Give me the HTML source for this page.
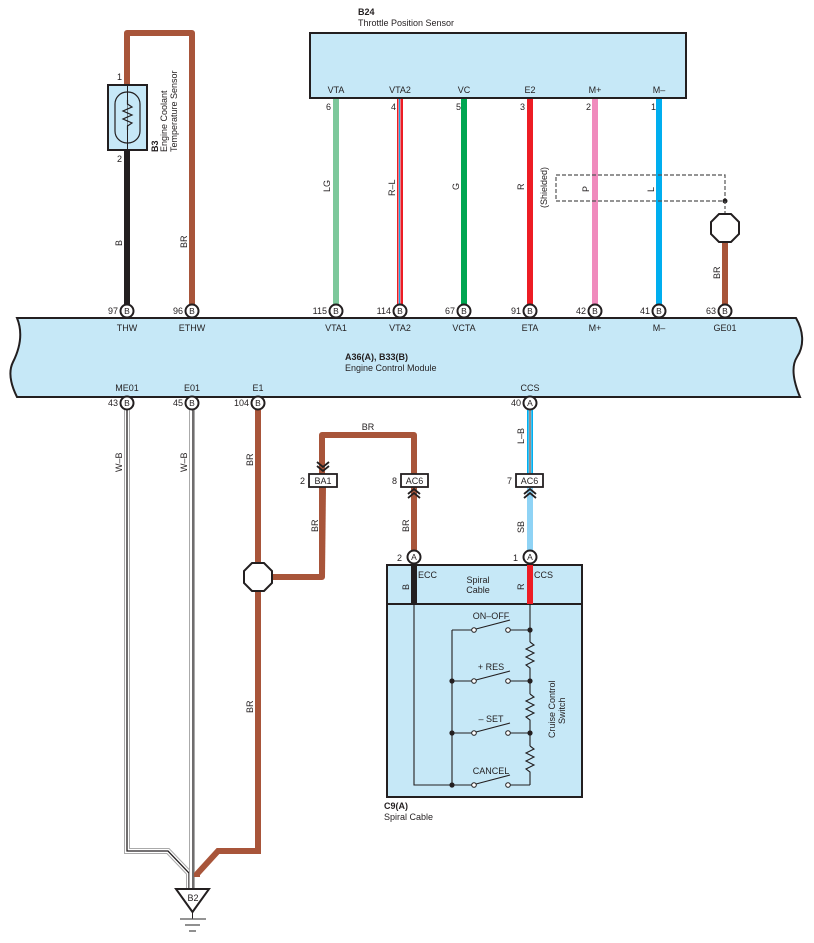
<!DOCTYPE html>
<html><head><meta charset="utf-8"><style>
html,body{margin:0;padding:0;background:#fff}
svg{display:block}
text{font-family:"Liberation Sans",Arial,sans-serif;font-size:9px;fill:#231f20}
.b{font-weight:bold}
</style></head><body>
<svg width="814" height="943" viewBox="0 0 814 943" xmlns="http://www.w3.org/2000/svg">
<defs>
<g id="pinB"><circle r="6.5" fill="#fff" stroke="#231f20" stroke-width="2"/><text x="0" y="3.2" text-anchor="middle" style="font-size:8.5px">B</text></g>
<g id="pinA"><circle r="6.5" fill="#fff" stroke="#231f20" stroke-width="2"/><text x="0" y="3.2" text-anchor="middle" style="font-size:8.5px">A</text></g>
</defs>

<text x="358" y="15" class="b">B24</text>
<text x="358" y="26">Throttle Position Sensor</text>
<rect x="310" y="33" width="376" height="65" fill="#c6e8f7" stroke="#231f20" stroke-width="2"/>
<g text-anchor="middle">
<text x="336" y="93">VTA</text><text x="400" y="93">VTA2</text><text x="464" y="93">VC</text>
<text x="530" y="93">E2</text><text x="595" y="93">M+</text><text x="659" y="93">M–</text>
</g>
<text x="326" y="110">6</text><text x="391" y="110">4</text><text x="456" y="110">5</text>
<text x="520" y="110">3</text><text x="586" y="110">2</text><text x="651" y="110">1</text>

<line x1="336" y1="99" x2="336" y2="304" stroke="#7dc89b" stroke-width="6"/>
<line x1="400" y1="99" x2="400" y2="304" stroke="#ed1c24" stroke-width="6"/>
<line x1="399.5" y1="99" x2="399.5" y2="304" stroke="#fff" stroke-width="2"/>
<line x1="399.5" y1="99" x2="399.5" y2="304" stroke="#1e9fe0" stroke-width="1.2"/>
<line x1="464" y1="99" x2="464" y2="304" stroke="#00a651" stroke-width="6"/>
<line x1="530" y1="99" x2="530" y2="304" stroke="#ed1c24" stroke-width="6"/>
<line x1="595" y1="99" x2="595" y2="304" stroke="#f08bbd" stroke-width="6"/>
<line x1="659" y1="99" x2="659" y2="304" stroke="#00aeef" stroke-width="6"/>

<rect x="556" y="175" width="169" height="26" fill="none" stroke="#555" stroke-width="1.2" stroke-dasharray="4,2"/>
<circle cx="725" cy="201" r="2.5" fill="#231f20"/>
<line x1="725" y1="201" x2="725" y2="214" stroke="#555" stroke-width="1.2" stroke-dasharray="3,2"/>
<line x1="725" y1="242" x2="725" y2="304" stroke="#a8553a" stroke-width="6"/>
<polygon points="719,214 731,214 739,222 739,234 731,242 719,242 711,234 711,222" fill="#fff" stroke="#231f20" stroke-width="2"/>
<text transform="translate(547,208) rotate(-90)">(Shielded)</text>

<text transform="translate(330,192) rotate(-90)">LG</text>
<text transform="translate(395,196) rotate(-90)">R–L</text>
<text transform="translate(459,190) rotate(-90)">G</text>
<text transform="translate(524,190) rotate(-90)">R</text>
<text transform="translate(589,192) rotate(-90)">P</text>
<text transform="translate(654,192) rotate(-90)">L</text>
<text transform="translate(720,279) rotate(-90)">BR</text>

<path d="M127,85 V33 H192 V304" fill="none" stroke="#a8553a" stroke-width="6" stroke-linejoin="round"/>
<line x1="127" y1="150" x2="127" y2="304" stroke="#231f20" stroke-width="6"/>
<rect x="108" y="85" width="39" height="65" fill="#c6e8f7" stroke="#231f20" stroke-width="2"/>
<rect x="115" y="92" width="25" height="51" rx="12" fill="none" stroke="#231f20" stroke-width="1.2"/>
<line x1="127.5" y1="85" x2="127.5" y2="150" stroke="#231f20" stroke-width="1"/>
<polyline points="127.5,100 127.5,104 132,107 123,111 132,115 123,119 132,123 127.5,126 127.5,130" fill="#c6e8f7" stroke="#231f20" stroke-width="1.2"/>
<text x="117" y="80">1</text><text x="117" y="162">2</text>
<text transform="translate(158,152) rotate(-90)" class="b">B3</text>
<text transform="translate(167,152) rotate(-90)">Engine Coolant</text>
<text transform="translate(177,152) rotate(-90)">Temperature Sensor</text>
<text transform="translate(122,246) rotate(-90)">B</text>
<text transform="translate(187,248) rotate(-90)">BR</text>

<path d="M17,318 H796 C803,330 805,345 797,357 C790,368 795,385 800,397 H17 C11,385 8,372 13,362 C18,352 24,335 17,318 Z" fill="#c6e8f7" stroke="#231f20" stroke-width="2"/>
<g text-anchor="middle">
<text x="127" y="331">THW</text><text x="192" y="331">ETHW</text><text x="336" y="331">VTA1</text>
<text x="400" y="331">VTA2</text><text x="464" y="331">VCTA</text><text x="530" y="331">ETA</text>
<text x="595" y="331">M+</text><text x="659" y="331">M–</text><text x="725" y="331">GE01</text>
<text x="127" y="391">ME01</text><text x="192" y="391">E01</text><text x="258" y="391">E1</text><text x="530" y="391">CCS</text>
</g>
<text x="345" y="360" class="b">A36(A), B33(B)</text>
<text x="345" y="371">Engine Control Module</text>
<g text-anchor="end">
<text x="118" y="314">97</text><text x="183" y="314">96</text><text x="327" y="314">115</text>
<text x="391" y="314">114</text><text x="455" y="314">67</text><text x="521" y="314">91</text>
<text x="586" y="314">42</text><text x="650" y="314">41</text><text x="716" y="314">63</text>
<text x="118" y="406">43</text><text x="183" y="406">45</text><text x="249" y="406">104</text><text x="521" y="406">40</text>
</g>
<use href="#pinB" x="127" y="311"/><use href="#pinB" x="192" y="311"/><use href="#pinB" x="336" y="311"/>
<use href="#pinB" x="400" y="311"/><use href="#pinB" x="464" y="311"/><use href="#pinB" x="530" y="311"/>
<use href="#pinB" x="595" y="311"/><use href="#pinB" x="659" y="311"/><use href="#pinB" x="725" y="311"/>

<g fill="none" stroke-linejoin="miter">
<path d="M127,410 V851 H168 L189,873 V889" stroke="#aaa" stroke-width="6"/>
<path d="M127,410 V851 H168 L189,873 V889" stroke="#fff" stroke-width="4"/>
<path d="M127,410 V851 H168 L189,873 V889" stroke="#231f20" stroke-width="1.3"/>
<path d="M192,410 V889" stroke="#aaa" stroke-width="6"/>
<path d="M192,410 V889" stroke="#fff" stroke-width="4"/>
<path d="M193,410 V889" stroke="#231f20" stroke-width="1.3"/>
<path d="M258,410 V851 H218 L197,874 V877" stroke="#a8553a" stroke-width="6"/>
</g>
<use href="#pinB" x="127" y="403"/><use href="#pinB" x="192" y="403"/><use href="#pinB" x="258" y="403"/>
<text transform="translate(122,472) rotate(-90)">W–B</text>
<text transform="translate(187,472) rotate(-90)">W–B</text>
<text transform="translate(253,466) rotate(-90)">BR</text>
<text transform="translate(253,713) rotate(-90)">BR</text>
<polygon points="176,889 209,889 192.5,912" fill="#fff" stroke="#231f20" stroke-width="2"/>
<text x="193" y="901" text-anchor="middle">B2</text>
<line x1="192.5" y1="912" x2="192.5" y2="919" stroke="#231f20" stroke-width="1"/>
<line x1="180" y1="919" x2="206" y2="919" stroke="#555" stroke-width="1.3"/>
<line x1="185" y1="925" x2="200" y2="925" stroke="#555" stroke-width="1.3"/>
<line x1="189" y1="931" x2="196" y2="931" stroke="#555" stroke-width="1.3"/>

<path d="M272,577 H322 V435 H414 V474" fill="none" stroke="#a8553a" stroke-width="6" stroke-linejoin="round"/>
<line x1="414" y1="487" x2="414" y2="557" stroke="#a8553a" stroke-width="6"/>
<line x1="323" y1="487" x2="322" y2="577" stroke="#a8553a" stroke-width="6"/>
<polygon points="252,563 264,563 272,571 272,583 264,591 252,591 244,583 244,571" fill="#fff" stroke="#231f20" stroke-width="2"/>
<text x="368" y="430" text-anchor="middle">BR</text>
<text transform="translate(318,532) rotate(-90)">BR</text>
<text transform="translate(409,532) rotate(-90)">BR</text>
<polyline points="317,462 323,467 329,462" fill="none" stroke="#231f20" stroke-width="1.8"/>
<polyline points="317,466 323,471 329,466" fill="none" stroke="#231f20" stroke-width="1.8"/>
<rect x="309" y="474" width="28" height="13" fill="#fff" stroke="#231f20" stroke-width="1.8"/>
<text x="323" y="484" text-anchor="middle">BA1</text><text x="300" y="484">2</text>
<rect x="401" y="474" width="27" height="13" fill="#fff" stroke="#231f20" stroke-width="1.8"/>
<text x="414.5" y="484" text-anchor="middle">AC6</text><text x="392" y="484">8</text>
<polyline points="408,494 414,489 420,494" fill="none" stroke="#231f20" stroke-width="1.8"/>
<polyline points="408,498 414,493 420,498" fill="none" stroke="#231f20" stroke-width="1.8"/>
<line x1="530" y1="410" x2="530" y2="474" stroke="#00aeef" stroke-width="6"/>
<line x1="530" y1="410" x2="530" y2="474" stroke="#fff" stroke-width="2.5"/>
<line x1="530" y1="410" x2="530" y2="474" stroke="#231f20" stroke-width="1"/>
<line x1="530" y1="487" x2="530" y2="557" stroke="#8fd3f5" stroke-width="6"/>
<use href="#pinA" x="530" y="403"/>
<rect x="516" y="474" width="27" height="13" fill="#fff" stroke="#231f20" stroke-width="1.8"/>
<text x="529.5" y="484" text-anchor="middle">AC6</text><text x="507" y="484">7</text>
<polyline points="524,494 530,489 536,494" fill="none" stroke="#231f20" stroke-width="1.8"/>
<polyline points="524,498 530,493 536,498" fill="none" stroke="#231f20" stroke-width="1.8"/>
<text transform="translate(524,444) rotate(-90)">L–B</text>
<text transform="translate(524,533) rotate(-90)">SB</text>

<rect x="387" y="565" width="195" height="232" fill="#c6e8f7" stroke="#231f20" stroke-width="2"/>
<line x1="387" y1="604" x2="582" y2="604" stroke="#231f20" stroke-width="2"/>
<line x1="414" y1="565" x2="414" y2="604" stroke="#231f20" stroke-width="6"/>
<line x1="530" y1="565" x2="530" y2="604" stroke="#ed1c24" stroke-width="6"/>
<use href="#pinA" x="414" y="557"/><use href="#pinA" x="530" y="557"/>
<text x="397" y="561">2</text><text x="513" y="561">1</text>
<text x="418" y="578">ECC</text><text x="534" y="578">CCS</text>
<text x="478" y="583" text-anchor="middle">Spiral</text><text x="478" y="593" text-anchor="middle">Cable</text>
<text transform="translate(409,590) rotate(-90)">B</text>
<text transform="translate(524,590) rotate(-90)">R</text>
<g stroke="#231f20" stroke-width="1.1" fill="none">
<polyline points="414,604 414,785 474,785"/>
<line x1="452" y1="630" x2="452" y2="785"/>
<line x1="452" y1="630" x2="474" y2="630"/><line x1="452" y1="681" x2="474" y2="681"/><line x1="452" y1="733" x2="474" y2="733"/>
<line x1="508" y1="630" x2="530" y2="630"/><line x1="508" y1="681" x2="530" y2="681"/><line x1="508" y1="733" x2="530" y2="733"/><line x1="508" y1="785" x2="530" y2="785"/>
<line x1="530" y1="604" x2="530" y2="642"/>
<polyline points="530,642 534,645 526,649 534,653 526,657 534,661 526,665 530,668 530,694"/>
<polyline points="530,694 534,697 526,701 534,705 526,709 534,713 526,717 530,720 530,746"/>
<polyline points="530,746 534,749 526,753 534,757 526,761 534,765 526,769 530,772 530,785"/>
<line x1="476" y1="629" x2="510" y2="620"/><line x1="476" y1="680" x2="510" y2="671"/>
<line x1="476" y1="732" x2="510" y2="723"/><line x1="476" y1="784" x2="510" y2="775"/>
</g>
<g fill="#fff" stroke="#231f20" stroke-width="1">
<circle cx="474" cy="630" r="2.3"/><circle cx="508" cy="630" r="2.3"/>
<circle cx="474" cy="681" r="2.3"/><circle cx="508" cy="681" r="2.3"/>
<circle cx="474" cy="733" r="2.3"/><circle cx="508" cy="733" r="2.3"/>
<circle cx="474" cy="785" r="2.3"/><circle cx="508" cy="785" r="2.3"/>
</g>
<g fill="#231f20">
<circle cx="530" cy="630" r="2.6"/><circle cx="530" cy="681" r="2.6"/><circle cx="530" cy="733" r="2.6"/>
<circle cx="452" cy="681" r="2.6"/><circle cx="452" cy="733" r="2.6"/><circle cx="452" cy="785" r="2.6"/>
</g>
<g text-anchor="middle">
<text x="491" y="619">ON–OFF</text><text x="491" y="670">+ RES</text>
<text x="491" y="722">– SET</text><text x="491" y="774">CANCEL</text>
</g>
<text transform="translate(555,738) rotate(-90)">Cruise Control</text>
<text transform="translate(565,724) rotate(-90)">Switch</text>
<text x="384" y="809" class="b">C9(A)</text>
<text x="384" y="820">Spiral Cable</text>
</svg>
</body></html>
